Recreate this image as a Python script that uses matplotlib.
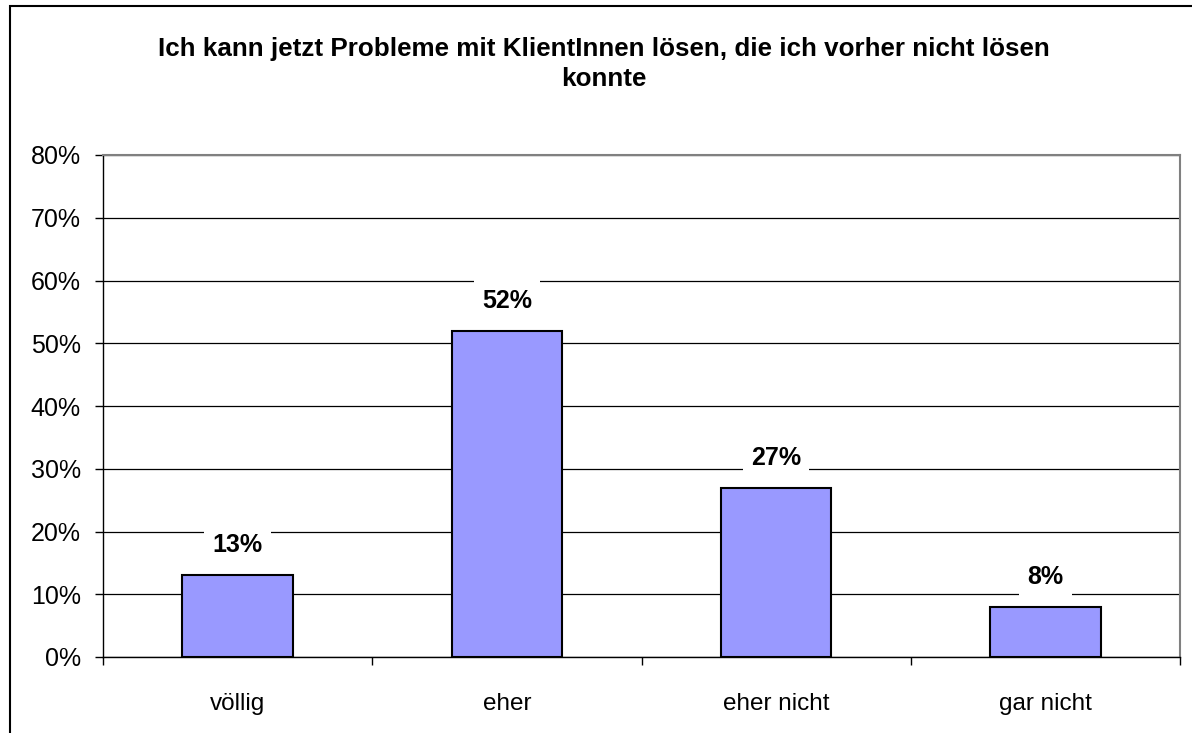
import matplotlib.pyplot as plt
from matplotlib.patches import Rectangle
from matplotlib.ticker import FixedLocator, PercentFormatter

plt.rcParams['font.family'] = ['Liberation Sans', 'DejaVu Sans']

categories = ['völlig', 'eher', 'eher nicht', 'gar nicht']
values = [13, 52, 27, 8]
title = 'Ich kann jetzt Probleme mit KlientInnen lösen, die ich vorher nicht lösen\nkonnte'

fig = plt.figure(figsize=(11.92, 7.33), dpi=100)
ax = fig.add_axes([103 / 1192, 1 - 657 / 733, 1077 / 1192, 502 / 733])

# outer chart frame (cut off at right and bottom like the original)
fig.patches.append(Rectangle((10 / 1192, -0.05), 1.1, 1.05 - 6 / 733,
                             transform=fig.transFigure, fill=False,
                             edgecolor='black', linewidth=1.5))

x = range(len(categories))
ax.bar(x, values, width=0.41, color='#9999FF', edgecolor='black', linewidth=1.5, zorder=3)

for xi, v in zip(x, values):
    ax.annotate(f'{v}%', (xi, v), xytext=(0, 30), textcoords='offset pixels',
                ha='center', va='center', fontsize=18, fontweight='bold',
                bbox=dict(facecolor='white', edgecolor='none', pad=6), zorder=4)

ax.set_xlim(-0.5, len(categories) - 0.5)
ax.set_ylim(0, 80)
ax.set_yticks(range(0, 81, 10))
ax.yaxis.set_major_formatter(PercentFormatter(decimals=0))
ax.grid(axis='y', color='black', linewidth=0.9, zorder=1)

ax.set_xticks(list(x))
ax.set_xticklabels(categories, fontsize=17.5)
ax.xaxis.set_minor_locator(FixedLocator([i - 0.5 for i in range(len(categories) + 1)]))
ax.tick_params(axis='x', which='major', length=0, pad=26)
ax.tick_params(axis='x', which='minor', length=6, width=1, direction='out')
ax.tick_params(axis='y', length=6, width=1, pad=10, labelsize=18)

for side in ['top', 'right']:
    ax.spines[side].set_color('#808080')
    ax.spines[side].set_linewidth(1.5)
for side in ['left', 'bottom']:
    ax.spines[side].set_color('black')
    ax.spines[side].set_linewidth(1)

fig.text(604 / 1192, 1 - 64 / 733, title, ha='center', va='center',
         fontsize=18.7, fontweight='bold', linespacing=1.35)

fig.savefig('out.png', dpi=100)
